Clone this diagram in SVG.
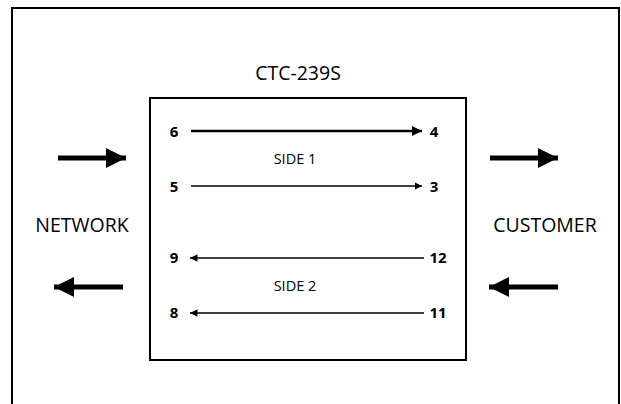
<svg xmlns="http://www.w3.org/2000/svg" width="621" height="404" viewBox="0 0 621 404">
<style>
text{font-family:"Open Sans","Liberation Sans",sans-serif;fill:#000}
.num{font-size:15px;font-weight:bold}
.side{font-size:14.5px}
.big{font-size:19.5px}
.ln{stroke:#000;fill:none}
</style>
<defs>
<marker id="ah" viewBox="0 0 10 10" refX="10" refY="5" markerWidth="4" markerHeight="4" orient="auto" markerUnits="strokeWidth"><path d="M0,0L10,5L0,10z" fill="#000"/></marker>
<marker id="ahs" viewBox="0 0 10 10" refX="10" refY="5" markerWidth="5" markerHeight="5" orient="auto" markerUnits="strokeWidth"><path d="M0,0L10,5L0,10z" fill="#000"/></marker>
</defs>
<rect width="621" height="404" fill="#fff"/>
<g id="frame"><path d="M12,404V8H619V404" class="ln" stroke-width="2"/></g>
<g id="title"><text x="298" y="80" text-anchor="middle" class="big">CTC-239S</text></g>
<g id="box"><rect x="150" y="98" width="316" height="262" fill="#fff" stroke="#000" stroke-width="2"/></g>
<g id="labels">
<text x="174" y="137" text-anchor="middle" class="num">6</text>
<text x="434" y="137" text-anchor="middle" class="num">4</text>
<text x="174" y="192" text-anchor="middle" class="num">5</text>
<text x="434" y="192" text-anchor="middle" class="num">3</text>
<text x="174" y="263" text-anchor="middle" class="num">9</text>
<text x="438" y="263" text-anchor="middle" class="num">12</text>
<text x="174" y="318" text-anchor="middle" class="num">8</text>
<text x="438" y="318" text-anchor="middle" class="num">11</text>
<text x="295" y="164" text-anchor="middle" class="side">SIDE 1</text>
<text x="295" y="291" text-anchor="middle" class="side">SIDE 2</text>
<text x="82" y="232" text-anchor="middle" class="big">NETWORK</text>
<text x="545" y="232" text-anchor="middle" class="big">CUSTOMER</text>
</g>
<g id="connectors">
<line x1="191" y1="131" x2="422" y2="131" class="ln" stroke-width="2.5" marker-end="url(#ah)"/>
<line x1="191" y1="186" x2="422" y2="186" class="ln" stroke-width="1.5" marker-end="url(#ahs)"/>
<line x1="424" y1="258" x2="190" y2="258" class="ln" stroke-width="1.5" marker-end="url(#ahs)"/>
<line x1="424" y1="313" x2="190" y2="313" class="ln" stroke-width="1.5" marker-end="url(#ahs)"/>
<line x1="58" y1="158" x2="126" y2="158" class="ln" stroke-width="5" marker-end="url(#ah)"/>
<line x1="123" y1="287" x2="54" y2="287" class="ln" stroke-width="5" marker-end="url(#ah)"/>
<line x1="490" y1="158" x2="558" y2="158" class="ln" stroke-width="5" marker-end="url(#ah)"/>
<line x1="558" y1="287" x2="489" y2="287" class="ln" stroke-width="5" marker-end="url(#ah)"/>
</g>
</svg>
